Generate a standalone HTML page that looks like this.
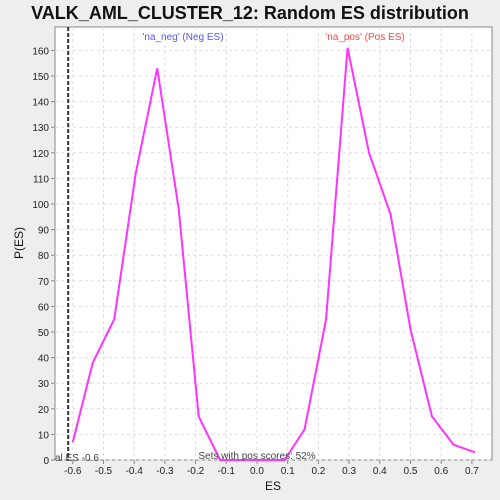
<!DOCTYPE html>
<html><head><meta charset="utf-8"><style>
body{margin:0;background:#eeeeee;font-family:"Liberation Sans",sans-serif;}
svg{display:block}
</style></head><body>
<svg width="500" height="500" id="chart">
<rect x="0" y="0" width="500" height="500" fill="#eeeeee"/>
<text x="250" y="19" text-anchor="middle" font-size="18" font-weight="bold" fill="#111">VALK_AML_CLUSTER_12: Random ES distribution</text>
<rect x="55" y="27" width="437" height="433" fill="#fff" stroke="#888"/>
<g id="grid"></g><g id="axes"></g><g id="series"></g>
<text x="183" y="40" text-anchor="middle" font-size="10" fill="#5555ff">'na_neg' (Neg ES)</text>
<text x="365" y="40" text-anchor="middle" font-size="10" fill="#ff4444">'na_pos' (Pos ES)</text>
<text x="257" y="459" text-anchor="middle" font-size="10" fill="#444">Sets with pos scores: 52%</text>
<text x="55" y="461" font-size="10" fill="#444">al ES -0.6</text>
<text x="273" y="490" text-anchor="middle" font-size="12" fill="#111">ES</text>
<text x="23" y="243" text-anchor="middle" font-size="12" fill="#111" transform="rotate(-90 23 243)">P(ES)</text>
</svg>
<script>
const esValues=[-0.6,-0.535,-0.465,-0.395,-0.325,-0.255,-0.19,-0.12,-0.05,0.02,0.09,0.155,0.225,0.295,0.365,0.435,0.5,0.57,0.64,0.71];
const densities=[7,38,55,112,153,98,17,0,0,0,0,12,55,161,120,96,51,17,6,3];
const xTicks=[-0.6,-0.5,-0.4,-0.3,-0.2,-0.1,0.0,0.1,0.2,0.3,0.4,0.5,0.6,0.7];
const yTicks=[0,10,20,30,40,50,60,70,80,90,100,110,120,130,140,150,160];
const actualES=[-0.615];
const NS="http://www.w3.org/2000/svg";
function X(v){return 257+v*307;}
function Y(v){return 460-v*2.56;}
function mk(t,a,p){const e=document.createElementNS(NS,t);for(const k in a)e.setAttribute(k,a[k]);p.appendChild(e);return e;}
const grid=document.getElementById('grid'),axes=document.getElementById('axes'),ser=document.getElementById('series');
xTicks.forEach(t=>{
 const g=mk('line',{x1:X(t),x2:X(t),y1:27,y2:460,stroke:'#ddd','stroke-dasharray':'3,3'},grid);
 
 
 const k=mk('line',{x1:X(t),x2:X(t),y1:460,y2:464,stroke:'#888'},axes);
 
 
 const l=mk('text',{x:X(t),y:474,'text-anchor':'middle','font-size':'10',fill:'#222'},axes);
 l.textContent=t.toFixed(1);
 
 
});
yTicks.forEach(t=>{
 const g=mk('line',{x1:55,x2:492,y1:Y(t),y2:Y(t),stroke:'#ddd','stroke-dasharray':'3,3'},grid);
 
 
 const k=mk('line',{x1:51,x2:55,y1:Y(t),y2:Y(t),stroke:'#888'},axes);
 
 
 const l=mk('text',{x:49,y:Y(t)+4,'text-anchor':'end','font-size':'10',fill:'#222'},axes);
 l.textContent=t;
 
 
});
actualES.forEach(v=>{
 const d=mk('line',{x1:X(v),x2:X(v),y1:27,y2:460,stroke:'#333','stroke-width':2,'stroke-dasharray':'4,2'},ser);
 
 
});
const pl=mk('polyline',{points:esValues.map((v,i)=>X(v)+','+Y(densities[i])).join(' '),fill:'none',stroke:'#ff33ff','stroke-width':2},ser);


</script>
</body></html>
